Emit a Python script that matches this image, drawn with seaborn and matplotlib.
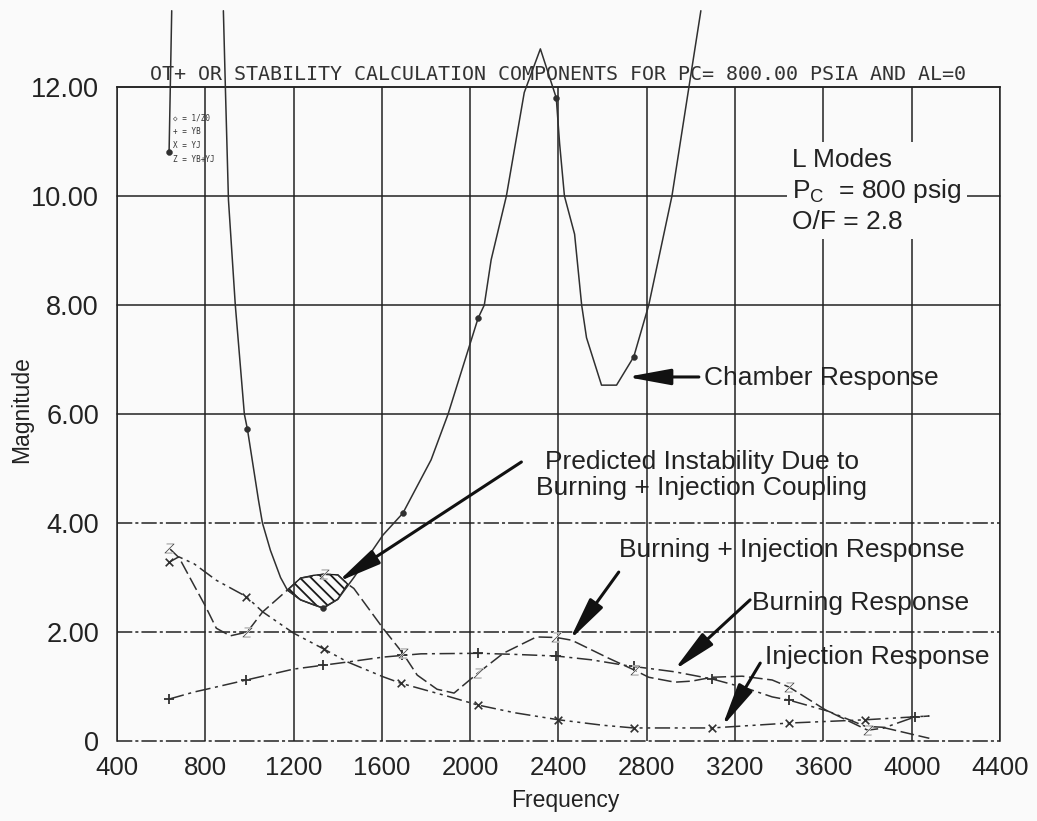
import numpy as np
import pandas as pd
import matplotlib.pyplot as plt
import seaborn as sns

# 1/Z0 - chamber response (two visible pieces, the middle runs off the top of the sheet)
chamber_freq_a = [636, 648]
chamber_mag_a = [10.8, 13.4]
chamber_freq_b = [882, 891, 905, 936, 977, 991, 1041, 1059, 1095, 1141, 1172, 1232, 1332,
                  1400, 1473, 1605, 1695, 1823, 1900, 1995, 2036, 2064, 2095, 2164, 2245,
                  2318, 2390, 2405, 2427, 2473, 2505, 2527, 2595, 2663, 2741, 2809, 2914,
                  2991, 3045]
chamber_mag_b = [13.4, 12.0, 9.93, 8.0, 6.0, 5.72, 4.42, 4.0, 3.5, 3.0, 2.77, 2.59, 2.44,
                 2.6, 3.0, 3.78, 4.18, 5.16, 6.0, 7.23, 7.76, 8.0, 8.83, 10.0, 11.9,
                 12.7, 11.8, 10.97, 10.0, 9.3, 8.0, 7.4, 6.53, 6.53, 7.05, 8.0, 10.0,
                 12.0, 13.4]
chamber_mk_freq = [636, 991, 1332, 1695, 2036, 2390, 2741]
chamber_mk_mag = [10.8, 5.72, 2.44, 4.18, 7.76, 11.8, 7.05]

# YB - burning response
yb_freq = [636, 750, 805, 986, 1200, 1332, 1445, 1605, 1777, 2036, 2200, 2390, 2550, 2700,
           2927, 3095, 3250, 3368, 3445, 3620, 3790, 3880, 4013, 4080]
yb_mag = [0.77, 0.90, 0.95, 1.12, 1.32, 1.39, 1.45, 1.54, 1.60, 1.61, 1.59, 1.56, 1.49, 1.39,
          1.27, 1.14, 0.97, 0.81, 0.75, 0.55, 0.27, 0.25, 0.44, 0.46]
yb_mk_freq = [636, 986, 1332, 1690, 2036, 2390, 2741, 3095, 3445, 4013]
yb_mk_mag = [0.77, 1.12, 1.39, 1.58, 1.61, 1.56, 1.38, 1.14, 0.75, 0.44]

# YJ - injection response
yj_freq = [636, 680, 750, 850, 986, 1060, 1200, 1336, 1445, 1605, 1686, 1900, 2036, 2200,
           2400, 2600, 2741, 3095, 3445, 3790, 4080]
yj_mag = [3.28, 3.38, 3.25, 2.95, 2.65, 2.37, 1.98, 1.69, 1.45, 1.18, 1.06, 0.82, 0.66, 0.52,
          0.39, 0.29, 0.24, 0.24, 0.33, 0.39, 0.46]
yj_mk_freq = [636, 986, 1336, 1686, 2036, 2400, 2741, 3095, 3445, 3790]
yj_mk_mag = [3.28, 2.65, 1.69, 1.06, 0.66, 0.39, 0.24, 0.24, 0.33, 0.39]

# YB+YJ - burning + injection response
z_freq = [636, 682, 750, 800, 850, 913, 990, 1060, 1172, 1232, 1336, 1400, 1445, 1473, 1605,
          1695, 1760, 1850, 1927, 2036, 2150, 2300, 2390, 2460, 2627, 2745, 2809, 2927, 3005,
          3095, 3232, 3368, 3445, 3610, 3800, 3880, 4080]
z_mag = [3.54, 3.36, 2.85, 2.48, 2.07, 1.93, 2.0, 2.37, 2.77, 2.99, 3.06, 3.05, 2.88, 2.8, 2.07,
         1.61, 1.21, 0.95, 0.88, 1.25, 1.61, 1.91, 1.9, 1.85, 1.52, 1.3, 1.17, 1.08, 1.10,
         1.17, 1.19, 1.12, 0.99, 0.57, 0.2, 0.24, 0.05]
z_mk_freq = [636, 990, 1336, 1695, 2036, 2390, 2745, 3445, 3800]
z_mk_mag = [3.54, 2.0, 3.06, 1.61, 1.25, 1.9, 1.3, 0.99, 0.2]

# hatched instability lobe (between chamber and YB+YJ)
hatch_freq = [1172, 1232, 1290, 1336, 1400, 1445]
hatch_low = [2.77, 2.59, 2.50, 2.44, 2.6, 2.88]
hatch_high = [2.77, 2.99, 3.04, 3.06, 3.05, 2.88]

x_ticks = list(range(400, 4401, 400))
y_ticks = [0, 2, 4, 6, 8, 10, 12]
y_labels = ["0", "2.00", "4.00", "6.00", "8.00", "10.00", "12.00"]

sns.set_theme(style="white")
plt.rcParams["font.family"] = ["Liberation Sans", "DejaVu Sans"]
plt.rcParams["mathtext.fontset"] = "custom"
plt.rcParams["mathtext.rm"] = "Liberation Sans"
plt.rcParams["hatch.linewidth"] = 1.3

ink = "#303030"
bg = "#fafafa"

fig = plt.figure(figsize=(10.37, 8.21), dpi=100, facecolor=bg)
ax = fig.add_axes([0.1128, 0.0974, 0.8515, 0.7966], facecolor=bg)

# grid like the plotter sheet
for xv in x_ticks:
    ax.axvline(xv, color="#222222", lw=1.1, zorder=1)
for yv in y_ticks:
    ls = "-" if yv >= 6 else (0, (10, 2, 2, 2))
    ax.axhline(yv, color="#222222", lw=1.1, ls=ls, zorder=1, clip_on=False)

# curves
chamber = pd.DataFrame({
    "freq": chamber_freq_a + chamber_freq_b,
    "mag": chamber_mag_a + chamber_mag_b,
    "seg": [0] * len(chamber_freq_a) + [1] * len(chamber_freq_b),
})
sns.lineplot(data=chamber, x="freq", y="mag", units="seg", estimator=None, sort=False,
             ax=ax, color=ink, lw=1.1, clip_on=False, zorder=3)
sns.lineplot(x=yb_freq, y=yb_mag, ax=ax, color=ink, lw=1.1, estimator=None, sort=False,
             linestyle=(0, (10, 3, 2, 3)), zorder=3)
sns.lineplot(x=yj_freq, y=yj_mag, ax=ax, color=ink, lw=1.1, estimator=None, sort=False,
             linestyle=(0, (10, 3, 2, 3, 2, 3)), zorder=3)
sns.lineplot(x=z_freq, y=z_mag, ax=ax, color=ink, lw=1.1, estimator=None, sort=False,
             linestyle=(0, (9, 3)), zorder=3)

# markers
sns.scatterplot(x=chamber_mk_freq, y=chamber_mk_mag, ax=ax, marker="o", s=18,
                color=ink, edgecolor=ink, zorder=4, clip_on=False)
sns.scatterplot(x=yb_mk_freq, y=yb_mk_mag, ax=ax, marker="+", s=45, color=ink,
                linewidth=1.3, zorder=4)
sns.scatterplot(x=yj_mk_freq, y=yj_mk_mag, ax=ax, marker="x", s=30, color=ink,
                linewidth=1.2, zorder=4)
sns.scatterplot(x=z_mk_freq, y=z_mk_mag, ax=ax, marker="$Z$", s=55, color=ink,
                linewidth=0.4, zorder=4)

ax.fill_between(hatch_freq, hatch_low, hatch_high, facecolor="none", edgecolor="#1a1a1a",
                hatch="\\" * 3, lw=1.0, zorder=2)

ax.set_xlim(400, 4400)
ax.set_ylim(0, 12)
ax.set_xticks(x_ticks)
ax.set_xticklabels([str(v) for v in x_ticks])
ax.set_yticks(y_ticks)
ax.set_yticklabels(y_labels)
ax.tick_params(axis="both", length=0, colors="#222222")
ax.tick_params(axis="x", pad=11, labelsize=18.5)
ax.tick_params(axis="y", pad=13, labelsize=19.5)
ax.set_xlabel("")
ax.set_ylabel("")
for side in ["left", "right", "top"]:
    ax.spines[side].set_color("#222222")
    ax.spines[side].set_linewidth(1.1)
ax.spines["bottom"].set_visible(False)

fig.text(22 / 1037, 1 - 410 / 821, "Magnitude", rotation=90, ha="center", va="center",
         fontsize=16.5, color="#222222")
fig.text(565 / 1037, 1 - 800 / 821, "Frequency", ha="center", va="center",
         fontsize=16.5, color="#222222")

ax.text(0.5, 1.011, "OT+ OR STABILITY CALCULATION COMPONENTS FOR PC= 800.00 PSIA AND AL=0",
        transform=ax.transAxes, ha="center", va="baseline", family="DejaVu Sans Mono",
        fontsize=14.4, color="#333333")

# little plotter key
key = ["\u25c7 = 1/Z0", "+ = YB", "X = YJ", "Z = YB+YJ"]
for i, k in enumerate(key):
    ax.text(655, 11.43 - i * 0.255, k, family="DejaVu Sans Mono", fontsize=5.5,
            color="#333333", va="center", ha="left", zorder=5)

ax.text(3459, 10.1, "L Modes\nP$_\\mathrm{C}$  = 800 psig\nO/F = 2.8", fontsize=19,
        color="#222222", ha="left", va="center", linespacing=1.25, zorder=6,
        bbox=dict(facecolor=bg, edgecolor="none", pad=4))

arrow = dict(arrowstyle="-|>,head_length=1.2,head_width=0.22", lw=2.2, color="#111111",
             mutation_scale=22, shrinkA=0, shrinkB=0)
notes = [
    ("Chamber Response", (2709, 6.68), (3036, 6.68), (3059, 6.66), "left"),
    ("Predicted Instability Due to\nBurning + Injection Coupling", (1400, 2.92), (2232, 5.12),
     (3050, 4.88), "center"),
    ("Burning + Injection Response", (2450, 1.85), (2673, 3.10), (2673, 3.50), "left"),
    ("Burning Response", (2923, 1.30), (3268, 2.59), (3277, 2.53), "left"),
    ("Injection Response", (3141, 0.26), (3314, 1.43), (3336, 1.54), "left"),
]
for txt, tip, tail, pos, ha in notes:
    ax.annotate("", xy=tip, xytext=tail, arrowprops=arrow, zorder=6)
    ax.text(pos[0], pos[1], txt, fontsize=19, color="#222222", ha=ha, va="center",
            linespacing=1.15, zorder=6)

plt.savefig("out.png", dpi=100, facecolor=bg)
plt.close()
